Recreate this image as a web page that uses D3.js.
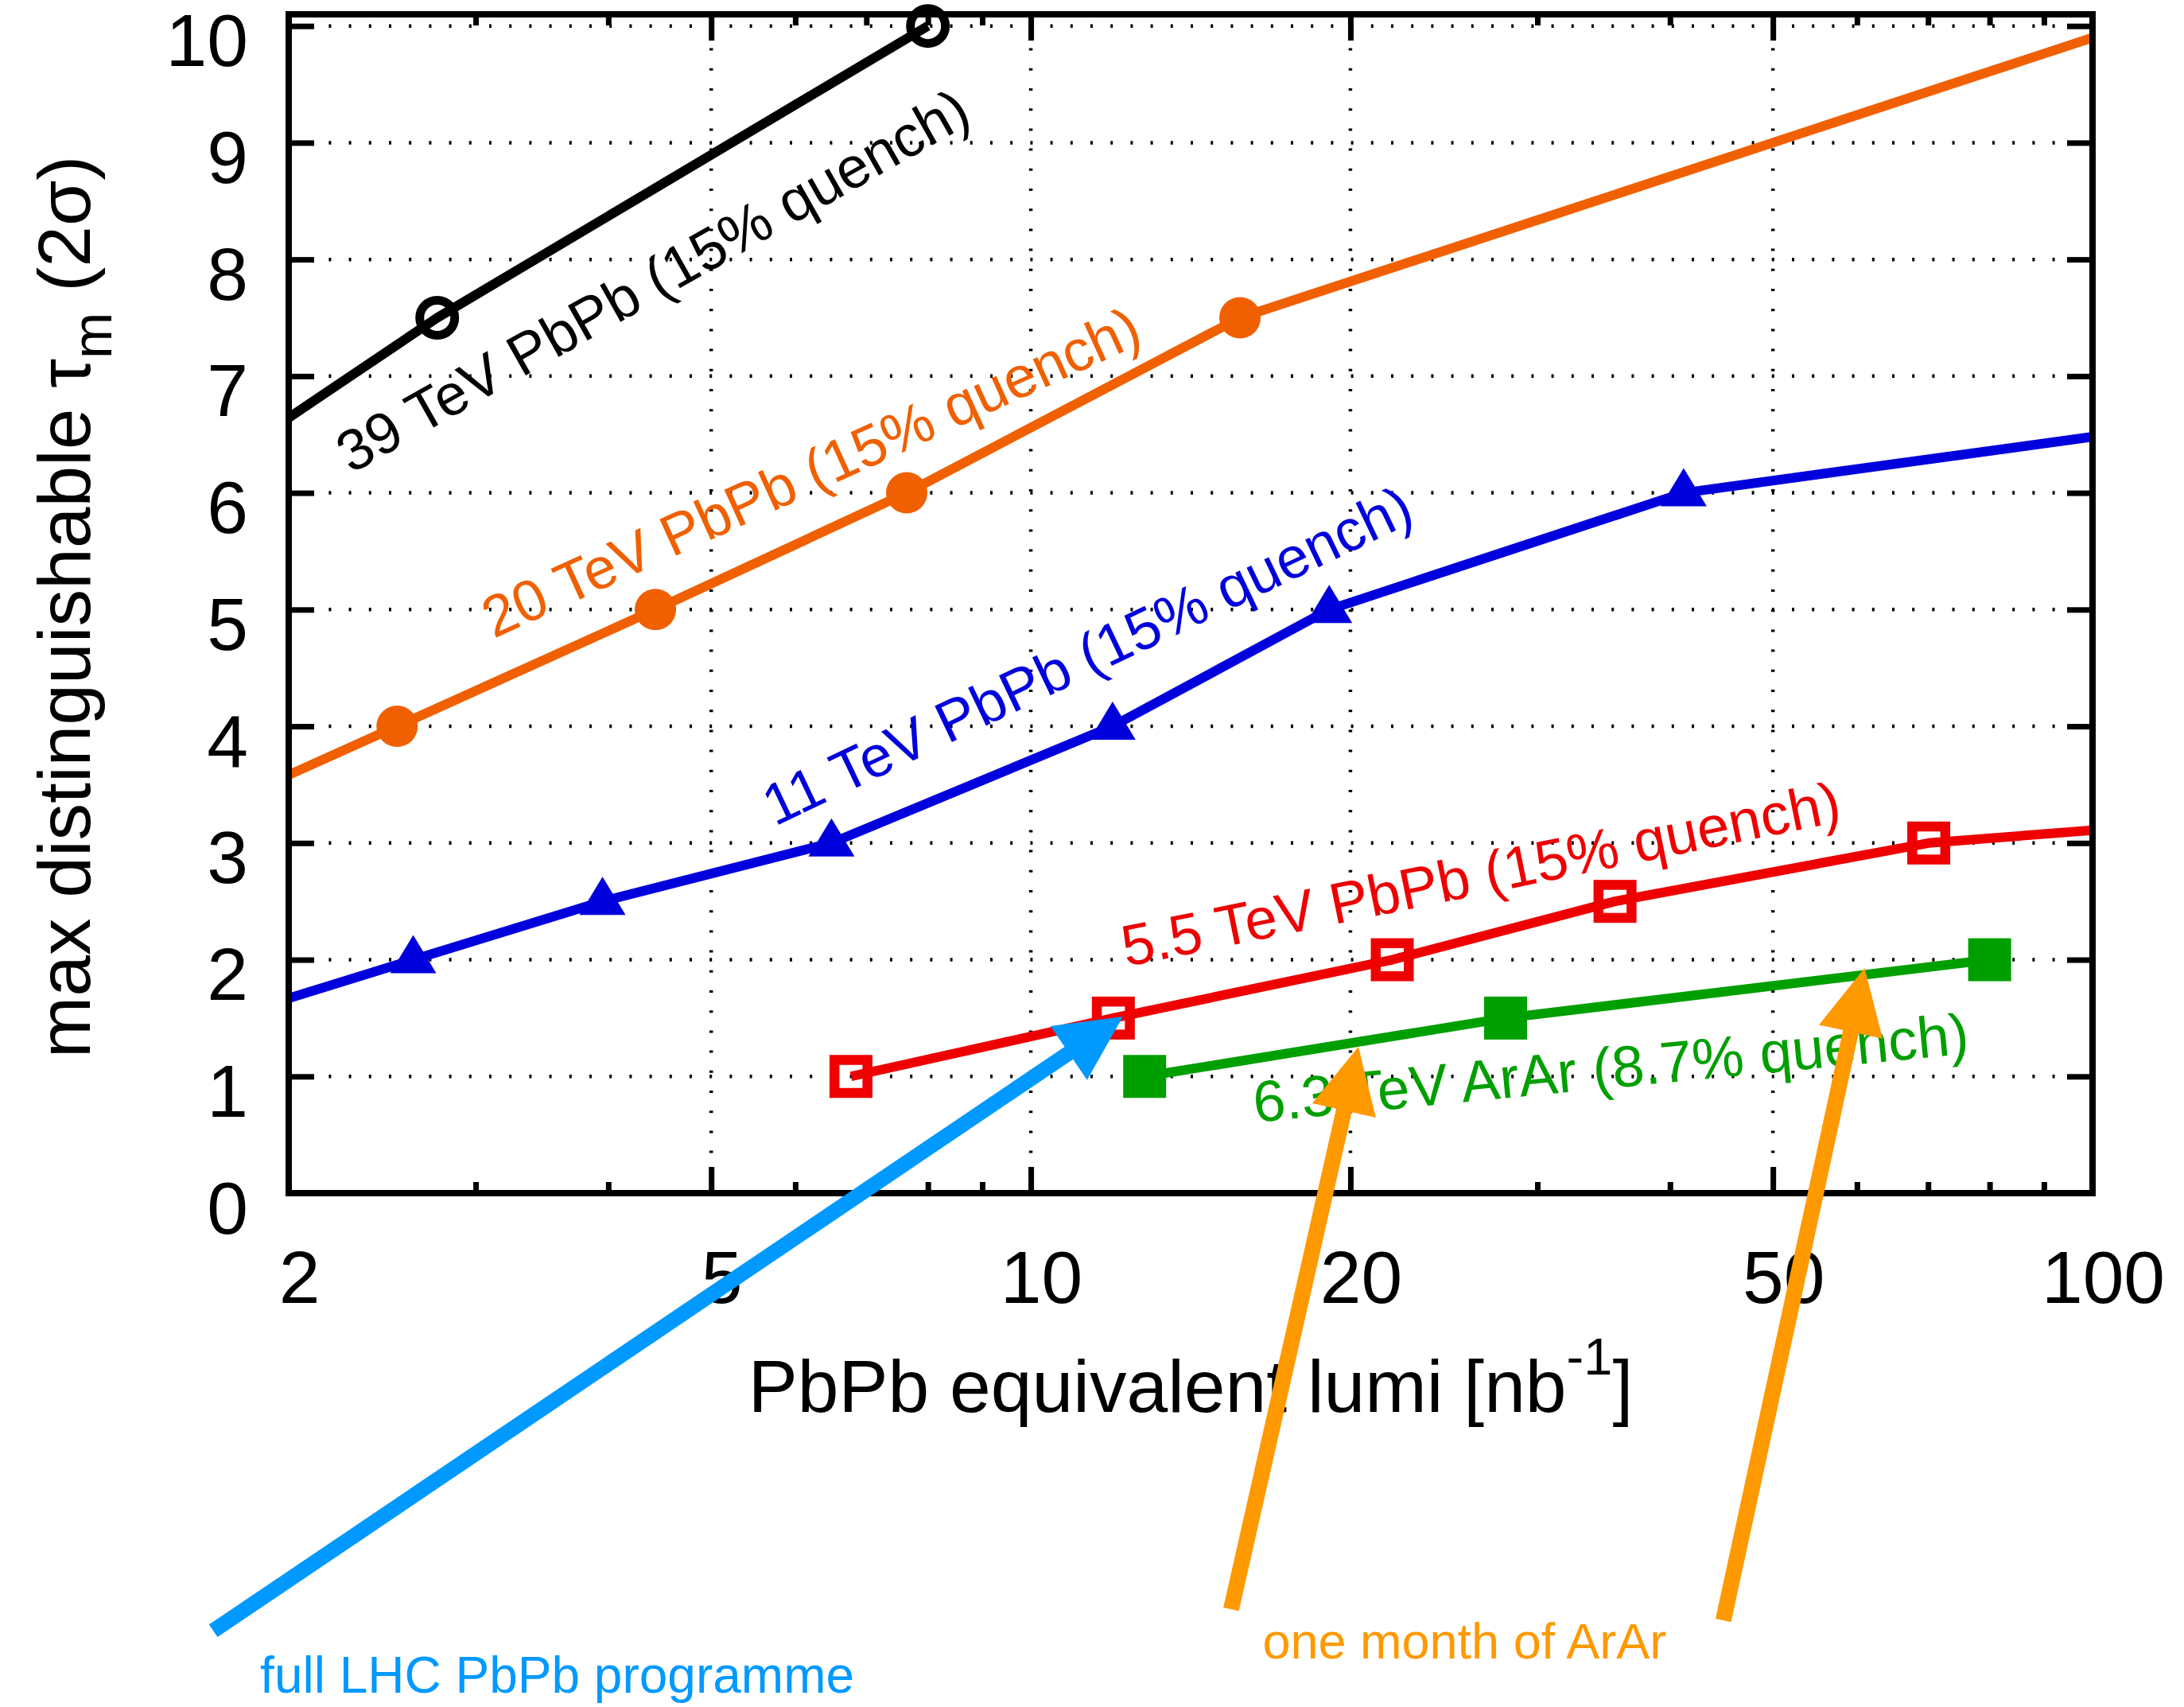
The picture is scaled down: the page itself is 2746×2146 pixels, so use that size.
<!DOCTYPE html>
<html>
<head>
<meta charset="utf-8">
<script src="https://cdn.jsdelivr.net/npm/d3@7"></script>
<style>
  html, body { margin: 0; padding: 0; background: #fff; }
  svg { display: block; font-family: "Liberation Sans", Arial, Helvetica, sans-serif; }
</style>
</head>
<body>
<svg id="chart" width="2746" height="2146"></svg>
<script>
// PbPb-equivalent luminosity [nb^-1] and max distinguishable tau_m (2 sigma)
const lumi39 = [1.57, 2.76, 8.0];
const tau39  = [6, 7.5, 10];
const lumi20 = [1.44, 2.53, 4.43, 7.64, 15.74, 108];
const tau20  = [3, 4, 5, 6, 7.5, 10];
const lumi11 = [1.74, 2.62, 3.95, 6.49, 11.94, 19.1, 41.2, 261];
const tau11  = [1.5, 2, 2.5, 3, 4, 5, 6, 7];
const lumi55 = [6.77, 11.96, 21.9, 35.5, 70.1, 355];
const tau55  = [1, 1.5, 2, 2.5, 3, 3.5];
const lumiArAr = [12.8, 28.0, 80.0];
const tauArAr  = [1, 1.5, 2];

const seriesLabels = [
  "39 TeV PbPb (15% quench)",
  "20 TeV PbPb (15% quench)",
  "11 TeV PbPb (15% quench)",
  "5.5 TeV PbPb (15% quench)",
  "6.3 TeV ArAr (8.7% quench)"
];
// where each label sits, in (lumi, tau)
const labelLumi = [2.29, 3.12, 5.74, 12.3, 16.26];
const labelTau  = [6.16, 4.75, 3.14, 1.94, 0.607];

const xMajorTicks = [2, 5, 10, 20, 50, 100];
const xMinorTicks = [3, 4, 6, 7, 8, 9, 30, 40, 60, 70, 80, 90];
const xGridValues = [5, 10, 20, 50];
const yTickValues = [0, 1, 2, 3, 4, 5, 6, 7, 8, 9, 10];
const yGridValues = [1, 2, 3, 4, 5, 6, 7, 8, 9, 10];

// annotation arrows: tail -> tip, in (lumi, tau)
const arrowTailLumi = [1.698, 15.44, 44.9];
const arrowTailTau  = [-3.75, -3.565, -3.66];
const arrowTipLumi  = [12.21, 20.35, 61.0];
const arrowTipTau   = [1.513, 1.254, 1.929];
const arrowText = ["full LHC PbPb programme", "one month of ArAr"];

// ---------------------------------------------------------------
const svg = d3.select("#chart");
const pLeft = 363, pRight = 2631, pTop = 18, pBottom = 1500;

const x = d3.scaleLog().domain([2, 100]).range([pLeft, pRight]);
const y = d3.scaleLinear().domain([0, 10.1]).range([pBottom, pTop]);

const zip = (xs, ys) => xs.map((v, i) => ({ lumi: v, tau: ys[i] }));

const series = [
  { pts: zip(lumi39, tau39),     color: "#000000", marker: "circleOpen",  angle: 29.5 },
  { pts: zip(lumi20, tau20),     color: "#f06000", marker: "circleFill",  angle: 24.5 },
  { pts: zip(lumi11, tau11),     color: "#0000dd", marker: "triangle",    angle: 25.5 },
  { pts: zip(lumi55, tau55),     color: "#ee0000", marker: "squareOpen",  angle: 11.5 },
  { pts: zip(lumiArAr, tauArAr), color: "#009f00", marker: "squareFill",  angle: 5.5 }
];

svg.append("defs").append("clipPath").attr("id", "plotClip")
  .append("rect").attr("x", pLeft).attr("y", pTop)
  .attr("width", pRight - pLeft).attr("height", pBottom - pTop);

// dotted grid
const grid = svg.append("g").attr("stroke", "#000").attr("stroke-width", 4.5)
  .attr("stroke-dasharray", "3 22.2");
grid.selectAll("line.gx").data(xGridValues).join("line").attr("class", "gx")
  .attr("x1", d => x(d)).attr("x2", d => x(d))
  .attr("y1", pBottom).attr("y2", pTop);
grid.selectAll("line.gy").data(yGridValues).join("line").attr("class", "gy")
  .attr("y1", d => y(d)).attr("y2", d => y(d))
  .attr("x1", pLeft).attr("x2", pRight);

// axes ticks (inward, mirrored)
function styleAxis(g) {
  g.select(".domain").remove();
  g.selectAll(".tick line").attr("stroke", "#000").attr("stroke-width", 7);
}
const tickFont = 93;
const fontStack = "'Liberation Sans', Arial, Helvetica, sans-serif";

svg.append("g").attr("transform", `translate(0,${pBottom})`)
  .call(d3.axisBottom(x).tickValues(xMinorTicks).tickSizeInner(-14).tickSizeOuter(0).tickFormat(""))
  .call(styleAxis);
const xb = svg.append("g").attr("transform", `translate(0,${pBottom})`)
  .call(d3.axisBottom(x).tickValues(xMajorTicks).tickSizeInner(-33).tickSizeOuter(0)
        .tickFormat(d3.format("d")))
  .call(styleAxis);
xb.selectAll(".tick text")
  .attr("y", 138).attr("dy", null).attr("x", 13)
  .attr("font-size", tickFont).attr("fill", "#000")
  .attr("font-family", fontStack);

svg.append("g").attr("transform", `translate(0,${pTop})`)
  .call(d3.axisTop(x).tickValues(xMinorTicks).tickSizeInner(-14).tickSizeOuter(0).tickFormat(""))
  .call(styleAxis);
svg.append("g").attr("transform", `translate(0,${pTop})`)
  .call(d3.axisTop(x).tickValues(xMajorTicks).tickSizeInner(-33).tickSizeOuter(0).tickFormat(""))
  .call(styleAxis);

const yl = svg.append("g").attr("transform", `translate(${pLeft},0)`)
  .call(d3.axisLeft(y).tickValues(yTickValues).tickSizeInner(-32).tickSizeOuter(0)
        .tickFormat(d3.format("d")))
  .call(styleAxis);
yl.selectAll(".tick text")
  .attr("x", -51).attr("dy", null).attr("y", 50)
  .attr("text-anchor", "end")
  .attr("font-size", tickFont).attr("fill", "#000")
  .attr("font-family", fontStack);

svg.append("g").attr("transform", `translate(${pRight},0)`)
  .call(d3.axisRight(y).tickValues(yTickValues).tickSizeInner(-32).tickSizeOuter(0).tickFormat(""))
  .call(styleAxis);

// series labels
series.forEach((s, i) => {
  const px = x(labelLumi[i]), py = y(labelTau[i]);
  svg.append("text")
    .attr("transform", `translate(${px},${py}) rotate(${-s.angle})`)
    .attr("font-size", 73).attr("fill", s.color)
    .text(seriesLabels[i]);
});

// lines
const line = d3.line().x(d => x(d.lumi)).y(d => y(d.tau));
const linesG = svg.append("g").attr("clip-path", "url(#plotClip)");
series.forEach(s => {
  linesG.append("path").datum(s.pts)
    .attr("d", line).attr("fill", "none")
    .attr("stroke", s.color).attr("stroke-width", 12)
    .attr("stroke-linejoin", "round");
});

// frame
svg.append("rect").attr("x", pLeft).attr("y", pTop)
  .attr("width", pRight - pLeft).attr("height", pBottom - pTop)
  .attr("fill", "none").attr("stroke", "#000").attr("stroke-width", 8);

// markers (only those within the plotted range)
const inRange = d => d.lumi >= 2 && d.lumi <= 100 && d.tau >= 0 && d.tau <= 10.1;
series.forEach(s => {
  const g = svg.append("g");
  const pts = s.pts.filter(inRange);
  const sel = g.selectAll("g").data(pts).join("g")
    .attr("transform", d => `translate(${x(d.lumi)},${y(d.tau)})`);
  if (s.marker === "circleOpen") {
    sel.append("circle").attr("r", 22).attr("fill", "none")
      .attr("stroke", s.color).attr("stroke-width", 11);
  } else if (s.marker === "circleFill") {
    sel.append("circle").attr("r", 26).attr("fill", s.color);
  } else if (s.marker === "triangle") {
    sel.append("path").attr("d", "M0,-31 L29,17 L-29,17 Z").attr("fill", s.color);
  } else if (s.marker === "squareOpen") {
    sel.append("rect").attr("x", -20.75).attr("y", -20.75)
      .attr("width", 41.5).attr("height", 41.5)
      .attr("fill", "none").attr("stroke", s.color).attr("stroke-width", 12.5);
  } else if (s.marker === "squareFill") {
    sel.append("rect").attr("x", -27).attr("y", -27)
      .attr("width", 54).attr("height", 54).attr("fill", s.color);
  }
});

// axis titles
const xt = svg.append("text")
  .attr("x", (pLeft + pRight) / 2).attr("y", 1775)
  .attr("text-anchor", "middle").attr("font-size", 93).attr("fill", "#000");
xt.append("tspan").text("PbPb equivalent lumi [nb");
xt.append("tspan").attr("dy", -47).attr("font-size", 65).text("-1");
xt.append("tspan").attr("dy", 47).text("]");

const yt = svg.append("text")
  .attr("transform", `translate(113,${(pTop + pBottom) / 2 + 4}) rotate(-90)`)
  .attr("text-anchor", "middle").attr("font-size", 93).attr("fill", "#000");
yt.append("tspan").text("max distinguishable \u03c4");
yt.append("tspan").attr("dy", 27).attr("font-size", 70).text("m");
yt.append("tspan").attr("dy", -27).text(" (2\u03c3)");

// annotation arrows
const arrowColors = ["#0099ff", "#ff9900", "#ff9900"];
const arrowWidths = [19, 20, 20];
const headLen = 82, headHalf = 41;
const arrowsG = svg.append("g");
const tails = arrowTailLumi.map((v, i) => [x(v), y(arrowTailTau[i])]);
const tips  = arrowTipLumi.map((v, i) => [x(v), y(arrowTipTau[i])]);
tails.forEach((p0, i) => {
  const p1 = tips[i];
  const dx = p1[0] - p0[0], dy = p1[1] - p0[1];
  const len = Math.hypot(dx, dy);
  const ux = dx / len, uy = dy / len;
  const nx = -uy, ny = ux;
  const bx = p1[0] - ux * headLen, by = p1[1] - uy * headLen;
  arrowsG.append("line")
    .attr("x1", p0[0]).attr("y1", p0[1])
    .attr("x2", bx + ux * 4).attr("y2", by + uy * 4)
    .attr("stroke", arrowColors[i]).attr("stroke-width", arrowWidths[i]);
  arrowsG.append("path")
    .attr("d", `M${p1[0]},${p1[1]} L${bx + nx * headHalf},${by + ny * headHalf} L${bx - nx * headHalf},${by - ny * headHalf} Z`)
    .attr("fill", arrowColors[i]);
});

svg.append("text")
  .attr("x", tails[0][0] + 59).attr("y", tails[0][1] + 78)
  .attr("font-size", 64).attr("fill", "#0099ff")
  .text(arrowText[0]);
svg.append("text")
  .attr("x", (tails[1][0] + tails[2][0]) / 2 - 16)
  .attr("y", (tails[1][1] + tails[2][1]) / 2 + 55)
  .attr("text-anchor", "middle")
  .attr("font-size", 63).attr("fill", "#ff9900")
  .text(arrowText[1]);
</script>
</body>
</html>
